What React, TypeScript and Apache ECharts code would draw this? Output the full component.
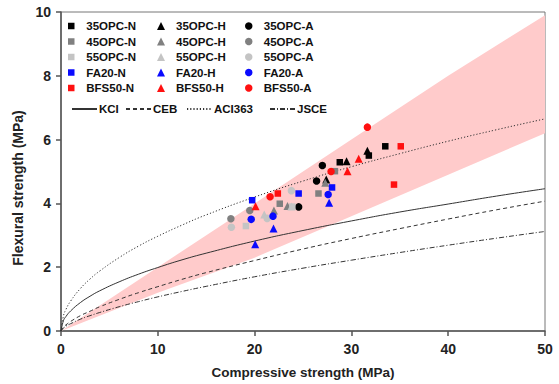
import React, { useEffect, useRef } from "react";
import * as echarts from "echarts";

// ---- Scatter data (compressive strength MPa, flexural strength MPa) ----
const opc35N = [[28.8, 5.29], [31.8, 5.5], [33.5, 5.79]];
const opc35H = [[27.4, 4.75], [29.5, 5.32], [31.65, 5.65]];
const opc35A = [[24.55, 3.89], [26.4, 4.7], [27.0, 5.19]];
const opc45N = [[22.6, 3.99], [26.6, 4.31], [28.3, 5.01]];
const opc45H = [[22.0, 3.78], [23.4, 3.92], [27.3, 4.65]];
const opc45A = [[17.55, 3.52], [19.5, 3.78]];
const opc55N = [[19.1, 3.29], [23.9, 3.9]];
const opc55H = [[21.0, 3.65], [23.8, 3.9]];
const opc55A = [[17.6, 3.25], [21.3, 3.53], [23.8, 4.4]];
const fa20N = [[19.75, 4.1], [24.55, 4.31], [28.0, 4.5]];
const fa20H = [[20.06, 2.72], [21.95, 3.21], [27.7, 4.02]];
const fa20A = [[19.65, 3.5], [21.9, 3.6], [27.6, 4.28]];
const bfs50N = [[22.4, 4.31], [34.4, 4.59], [35.1, 5.79]];
const bfs50H = [[20.1, 3.91], [29.6, 5.01], [30.75, 5.4]];
const bfs50A = [[21.6, 4.21], [27.9, 5.0], [31.65, 6.39]];

// ---- Code model curves ----
const curveX = [0, 0.25, 0.5, 1, 2, 3, 4, 6, 8, 10, 12.5, 15, 20, 25, 30, 35, 40, 45, 50];
const kciY = [0, 0.32, 0.45, 0.63, 0.89, 1.09, 1.26, 1.54, 1.78, 1.99, 2.23, 2.44, 2.82, 3.15, 3.45, 3.73, 3.98, 4.23, 4.46];
const cebY = [0, 0.12, 0.19, 0.3, 0.48, 0.62, 0.76, 0.99, 1.2, 1.39, 1.62, 1.83, 2.21, 2.57, 2.9, 3.21, 3.51, 3.8, 4.07];
const aciY = [0, 0.47, 0.67, 0.94, 1.33, 1.63, 1.88, 2.3, 2.66, 2.97, 3.32, 3.64, 4.2, 4.7, 5.15, 5.56, 5.95, 6.31, 6.65];
const jsceY = [0, 0.09, 0.15, 0.23, 0.37, 0.48, 0.58, 0.76, 0.92, 1.07, 1.24, 1.4, 1.7, 1.97, 2.22, 2.46, 2.69, 2.91, 3.12];

// ---- Shaded band ----
const bandX = [0, 10, 20, 30, 40, 50];
const bandLow = [0, 1.2, 2.3, 3.6, 4.9, 6.2];
const bandHigh = [0, 2.0, 4.0, 6.0, 8.0, 9.9];

// ---- Axis ticks ----
const xMin = 0, xMax = 50, xStep = 10;
const yMin = 0, yMax = 10, yStep = 2;

const BLACK = "#000000";
const GRAY = "#808080";
const LGRAY = "#c4c4c4";
const BLUE = "#0a0aff";
const RED = "#ff1010";

const ICON_SQUARE = "path://M0,0L10,0L10,10L0,10Z";
const ICON_TRI = "path://M5,0L10,10L0,10Z";

type SDef = { name: string; data: number[][]; color: string; symbol: string; size: number };
const scatterDefs: SDef[] = [
  { name: "35OPC-N", data: opc35N, color: BLACK, symbol: "rect", size: 6.5 },
  { name: "35OPC-H", data: opc35H, color: BLACK, symbol: "triangle", size: 8 },
  { name: "35OPC-A", data: opc35A, color: BLACK, symbol: "circle", size: 7.5 },
  { name: "45OPC-N", data: opc45N, color: GRAY, symbol: "rect", size: 6.5 },
  { name: "45OPC-H", data: opc45H, color: GRAY, symbol: "triangle", size: 8 },
  { name: "45OPC-A", data: opc45A, color: GRAY, symbol: "circle", size: 7.5 },
  { name: "55OPC-N", data: opc55N, color: LGRAY, symbol: "rect", size: 6.5 },
  { name: "55OPC-H", data: opc55H, color: LGRAY, symbol: "triangle", size: 8 },
  { name: "55OPC-A", data: opc55A, color: LGRAY, symbol: "circle", size: 7.5 },
  { name: "FA20-N", data: fa20N, color: BLUE, symbol: "rect", size: 6.5 },
  { name: "FA20-H", data: fa20H, color: BLUE, symbol: "triangle", size: 8 },
  { name: "FA20-A", data: fa20A, color: BLUE, symbol: "circle", size: 7.5 },
  { name: "BFS50-N", data: bfs50N, color: RED, symbol: "rect", size: 6.5 },
  { name: "BFS50-H", data: bfs50H, color: RED, symbol: "triangle", size: 8 },
  { name: "BFS50-A", data: bfs50A, color: RED, symbol: "circle", size: 7.5 },
];

type LDef = { name: string; y: number[]; type: any };
const lineDefs: LDef[] = [
  { name: "KCI", y: kciY, type: "solid" },
  { name: "CEB", y: cebY, type: [4, 3] },
  { name: "ACI363", y: aciY, type: [1.2, 2] },
  { name: "JSCE", y: jsceY, type: [5, 2, 1, 2] },
];

export default function App() {
  const ref = useRef<HTMLDivElement>(null);
  useEffect(() => {
    if (!ref.current) return;
    const chart = echarts.init(ref.current, undefined, { renderer: "svg" });
    const font = "Arial";
    const baseText = { fontSize: 11.5, fontWeight: "bold", fontFamily: font, color: "#111", lineHeight: 14 };

    const colCenters = [78, 167, 255];
    const rowYs = [26, 41.5, 57, 72.5, 88];
    const legends: any[] = [];
    scatterDefs.forEach((d, i) => {
      const row = Math.floor(i / 3);
      const col = i % 3;
      const icon = d.symbol === "rect" ? ICON_SQUARE : d.symbol === "triangle" ? ICON_TRI : "circle";
      legends.push({
        data: [{ name: d.name, icon }],
        left: colCenters[col] - 10,
        top: rowYs[row] - 7,
        padding: 0,
        itemWidth: 20,
        itemHeight: d.size,
        symbolKeepAspect: true,
        selectedMode: false,
        textStyle: baseText,
      });
    });
    const lineLefts = [71, 125, 186, 269];
    lineDefs.forEach((d, i) => {
      legends.push({
        data: [d.name],
        left: lineLefts[i],
        top: 109 - 7,
        padding: 0,
        itemWidth: 25,
        itemHeight: 8,
        selectedMode: false,
        itemStyle: { opacity: 0 },
        textStyle: { ...baseText, padding: [0, 0, 0, -3] },
      });
    });

    const series: any[] = [];
    series.push({
      type: "custom",
      name: "band",
      data: bandX.map((x, i) => [x, bandLow[i], bandHigh[i]]),
      encode: { x: 0, y: [1, 2] },
      z: 1,
      silent: true,
      renderItem: (params: any, api: any) => {
        if (params.dataIndex !== 0) return null;
        const pts: number[][] = [];
        for (let i = 0; i < bandX.length; i++) pts.push(api.coord([bandX[i], bandLow[i]]));
        for (let i = bandX.length - 1; i >= 0; i--) pts.push(api.coord([bandX[i], bandHigh[i]]));
        return { type: "polygon", shape: { points: pts }, style: { fill: "#ffcbcb" } };
      },
    });
    lineDefs.forEach((d) => {
      series.push({
        type: "line",
        name: d.name,
        data: curveX.map((x, i) => [x, d.y[i]]),
        smooth: true,
        symbol: "none",
        z: 2,
        lineStyle: { color: "#333", width: 1, type: d.type },
        itemStyle: { color: "#333" },
      });
    });
    scatterDefs.forEach((d) => {
      series.push({
        type: "scatter",
        name: d.name,
        data: d.data,
        symbol: d.symbol,
        symbolSize: d.size,
        z: 3,
        itemStyle: { color: d.color, opacity: 1 },
      });
    });

    chart.setOption({
      animation: false,
      grid: { left: 61, right: 14, top: 12, bottom: 53, show: true, borderColor: "#777", borderWidth: 1 },
      legend: legends,
      xAxis: {
        type: "value",
        min: xMin,
        max: xMax,
        interval: xStep,
        name: "Compressive strength (MPa)",
        nameLocation: "middle",
        nameGap: 34,
        nameTextStyle: { fontSize: 13.5, fontWeight: "bold", fontFamily: font, color: "#222" },
        axisLine: { show: true, lineStyle: { color: "#555", width: 1.5 } },
        axisTick: { show: true, length: 5, lineStyle: { color: "#555", width: 1.5 } },
        axisLabel: { fontSize: 14, fontWeight: "bold", fontFamily: font, color: "#222", margin: 11 },
        splitLine: { show: false },
      },
      yAxis: {
        type: "value",
        min: yMin,
        max: yMax,
        interval: yStep,
        axisLine: { show: true, lineStyle: { color: "#555", width: 1.5 } },
        axisTick: { show: true, length: 5, lineStyle: { color: "#555", width: 1.5 } },
        axisLabel: { fontSize: 14, fontWeight: "bold", fontFamily: font, color: "#222", margin: 10 },
        splitLine: { show: false },
      },
      graphic: [
        {
          type: "text",
          x: 18,
          y: 188,
          rotation: Math.PI / 2,
          style: {
            text: "Flexural strength (MPa)",
            fontSize: 14,
            fontWeight: "bold",
            fontFamily: font,
            fill: "#222",
            align: "center",
            verticalAlign: "middle",
          },
        },
      ],
      series,
    });
    return () => chart.dispose();
  }, []);
  return (
    <div
      ref={ref}
      style={{ position: "fixed", left: 0, top: 0, width: 559, height: 384, background: "#fff" }}
    />
  );
}
